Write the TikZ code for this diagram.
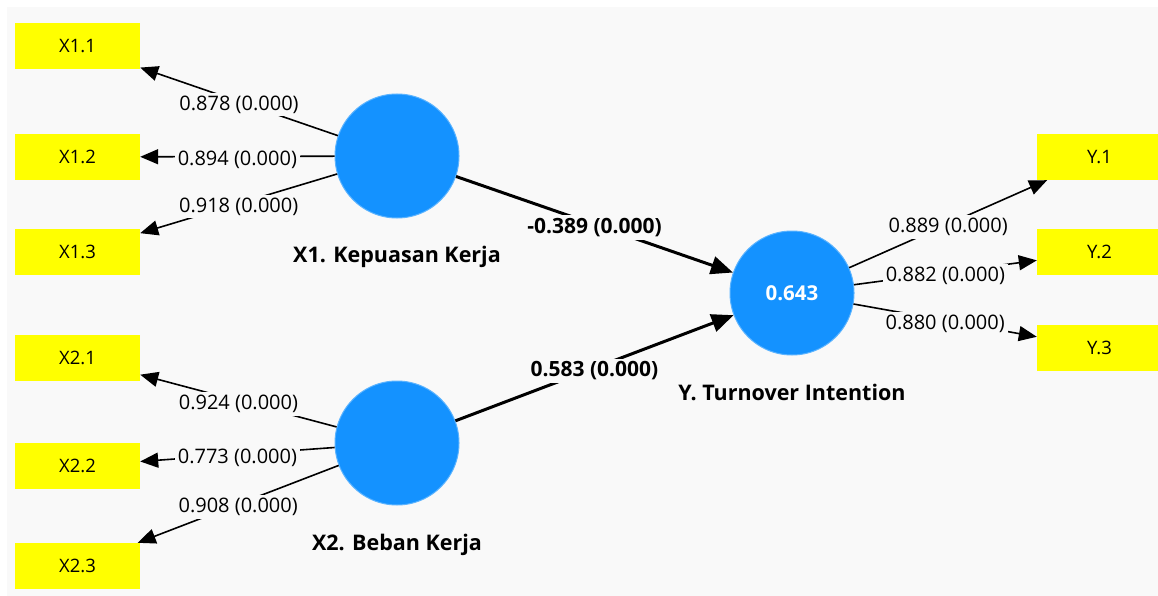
\documentclass[tikz,border=0pt]{standalone}
\usepackage{fontspec}
\setmainfont{Open Sans}
\usepackage{tikz}
\usetikzlibrary{arrows.meta}
\definecolor{panelgray}{RGB}{249,249,249}
\definecolor{lvblue}{RGB}{20,146,255}
\definecolor{mvyellow}{RGB}{255,255,0}
\tikzset{
  Indicator/.style={fill=mvyellow, minimum width=125pt, minimum height=46pt,
    inner sep=0pt, font=\fontsize{18.5}{22}\selectfont},
  Latent/.style={circle, fill=lvblue, draw=lvblue!70!white, line width=1pt,
    minimum size=124pt, inner sep=0pt, text=white,
    font=\bfseries\fontsize{20.5}{24}\selectfont},
  LvName/.style={font=\bfseries\fontsize{21.5}{26}\selectfont},
  Loading/.style={line width=1.6pt, -{Triangle[length=18pt,width=15pt]}},
  Path/.style={line width=3pt, -{Triangle[length=22pt,width=18pt]}},
  Coef/.style={fill=panelgray, inner sep=3pt, yshift=-3pt,
    font=\fontsize{20}{24}\selectfont},
  CoefB/.style={Coef, font=\bfseries\fontsize{21}{25}\selectfont}
}

\begin{document}
\begin{tikzpicture}[x=1pt, y=-1pt]

\useasboundingbox (0,0) rectangle (1158,596);
\fill[panelgray] (7,7) rectangle (1158,596);

\node[Latent] (X1) at (397,156) {};
\node[LvName] (X1name) at (397,257) {X1. Kepuasan Kerja};
\node[Indicator] (X11) at (77.5,46) {X1.1};
\node[Indicator] (X12) at (77.5,157) {X1.2};
\node[Indicator] (X13) at (77.5,252) {X1.3};
\draw[Loading] (X1) -- node[Coef] {0.878 (0.000)} (X11);
\draw[Loading] (X1) -- node[Coef] {0.894 (0.000)} (X12);
\draw[Loading] (X1) -- node[Coef] {0.918 (0.000)} (X13);

\node[Latent] (X2) at (397,443) {};
\node[LvName] (X2name) at (397,545) {X2. Beban Kerja};
\node[Indicator] (X21) at (77.5,358) {X2.1};
\node[Indicator] (X22) at (77.5,466) {X2.2};
\node[Indicator] (X23) at (77.5,566) {X2.3};
\draw[Loading] (X2) -- node[Coef] {0.924 (0.000)} (X21);
\draw[Loading] (X2) -- node[Coef] {0.773 (0.000)} (X22);
\draw[Loading] (X2) -- node[Coef] {0.908 (0.000)} (X23);

\node[Latent] (Y) at (792,293) {0.643};
\node[LvName] (Yname) at (792,392) {Y. Turnover Intention};
\node[Indicator] (Y1) at (1099.5,157) {Y.1};
\node[Indicator] (Y2) at (1099.5,252) {Y.2};
\node[Indicator] (Y3) at (1099.5,348) {Y.3};
\draw[Loading] (Y) -- node[Coef] {0.889 (0.000)} (Y1);
\draw[Loading] (Y) -- node[Coef] {0.882 (0.000)} (Y2);
\draw[Loading] (Y) -- node[Coef] {0.880 (0.000)} (Y3);

\draw[Path] (X1) -- node[CoefB] {-0.389 (0.000)} (Y);
\draw[Path] (X2) -- node[CoefB] {0.583 (0.000)} (Y);

\end{tikzpicture}
\end{document}
